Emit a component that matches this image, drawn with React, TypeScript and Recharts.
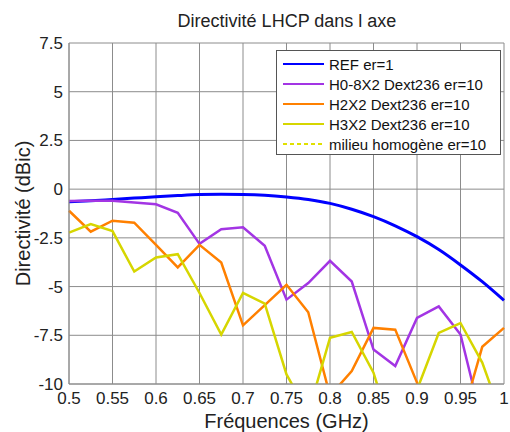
import React from 'react';
import { CartesianGrid, Line, LineChart, XAxis, YAxis } from 'recharts';

const frequencies = [
  0.5, 0.525, 0.55, 0.575, 0.6, 0.625, 0.65, 0.675, 0.7, 0.725, 0.75,
  0.775, 0.8, 0.825, 0.85, 0.875, 0.9, 0.925, 0.95, 0.975, 1.0,
];

const refEr1 = [
  -0.65, -0.6, -0.53, -0.46, -0.39, -0.33, -0.28, -0.26, -0.27, -0.31, -0.4,
  -0.53, -0.73, -1.03, -1.41, -1.88, -2.44, -3.1, -3.89, -4.75, -5.71,
];
const h08x2 = [
  -0.61, -0.6, -0.6, -0.68, -0.78, -1.21, -2.81, -2.06, -1.96, -2.91, -5.67,
  -4.82, -3.68, -4.74, -8.23, -9.08, -6.61, -6.02, -7.46, -12, -12.5,
];
const h2x2 = [
  -1.11, -2.18, -1.62, -1.72, -2.86, -4.02, -2.86, -3.77, -6.99, -5.95, -4.91,
  -6.32, -10.6, -9.34, -7.12, -7.21, -9.93, -12.5, -12, -8.09, -7.12,
];
const h3x2 = [
  -2.23, -1.79, -2.15, -4.23, -3.51, -3.34, -5.33, -7.46, -5.33, -5.88, -9.51,
  -11.5, -7.63, -7.33, -9.42, -13, -10.3, -7.38, -6.87, -8.9, -12,
];

const xTicks = [0.5, 0.55, 0.6, 0.65, 0.7, 0.75, 0.8, 0.85, 0.9, 0.95, 1];
const yTicks = [-10, -7.5, -5, -2.5, 0, 2.5, 5, 7.5];

const series = [
  { key: 'ref', name: 'REF er=1', color: '#0000ff', width: 3 },
  { key: 'h08', name: 'H0-8X2 Dext236 er=10', color: '#a335e4', width: 2.5 },
  { key: 'h2', name: 'H2X2 Dext236 er=10', color: '#ff8000', width: 2.5 },
  { key: 'h3', name: 'H3X2 Dext236 er=10', color: '#d6d600', width: 2.5 },
];
const legendOnly = { name: 'milieu homogène er=10', color: '#e0e000' };

const data = frequencies.map((f, i) => ({
  f,
  ref: refEr1[i],
  h08: h08x2[i],
  h2: h2x2[i],
  h3: h3x2[i],
}));

const font = '"Liberation Sans", Arial, sans-serif';

function LegendBox() {
  const rows = [
    ...series.map((s) => ({ name: s.name, color: s.color, dashed: false })),
    { name: legendOnly.name, color: legendOnly.color, dashed: true },
  ];
  return (
    <div
      style={{
        position: 'absolute',
        left: 276,
        top: 50,
        width: 225,
        height: 105,
        background: '#fff',
        border: '1px solid #555',
        fontFamily: font,
        fontSize: 15,
        color: '#111',
        paddingTop: 3,
        boxSizing: 'border-box',
      }}
    >
      {rows.map((r) => (
        <div key={r.name} style={{ display: 'flex', alignItems: 'center', height: 20 }}>
          <svg width={52} height={10} style={{ flex: 'none' }}>
            <line
              x1={6}
              x2={47}
              y1={5}
              y2={5}
              stroke={r.color}
              strokeWidth={2}
              strokeDasharray={r.dashed ? '4 3' : undefined}
            />
          </svg>
          <span style={{ whiteSpace: 'nowrap' }}>{r.name}</span>
        </div>
      ))}
    </div>
  );
}

export default function App() {
  return (
    <div style={{ position: 'relative', width: 510, height: 432, background: '#fff' }}>
      <style>{`body{margin:0}`}</style>
      <div
        style={{
          position: 'absolute',
          top: 11,
          left: 69,
          width: 436,
          textAlign: 'center',
          fontFamily: font,
          fontSize: 18,
          color: '#222',
        }}
      >
        Directivité LHCP dans l axe
      </div>
      <LineChart
        width={510}
        height={432}
        data={data}
        margin={{ top: 43, right: 6, left: 0, bottom: 0 }}
      >
        <CartesianGrid stroke="#8c8c8c" />
        <XAxis
          dataKey="f"
          type="number"
          domain={[0.5, 1]}
          ticks={xTicks}
          height={48}
          tickLine={false}
          axisLine={{ stroke: '#8c8c8c' }}
          tick={{ fill: '#222', fontSize: 17, fontFamily: font }}
          interval={0}
          label={{
            value: 'Fréquences (GHz)',
            position: 'insideBottom',
            offset: 4,
            style: { fill: '#222', fontSize: 20, fontFamily: font },
          }}
        />
        <YAxis
          type="number"
          domain={[-10, 7.5]}
          ticks={yTicks}
          allowDataOverflow
          width={69}
          tickLine={false}
          tickMargin={0}
          axisLine={{ stroke: '#8c8c8c' }}
          tick={{ fill: '#222', fontSize: 17, fontFamily: font }}
          interval={0}
          label={{
            value: 'Directivité (dBic)',
            angle: -90,
            position: 'insideLeft',
            offset: 23,
            style: { textAnchor: 'middle', fill: '#222', fontSize: 20, fontFamily: font },
          }}
        />
        {series.map((s) => (
          <Line
            key={s.key}
            dataKey={s.key}
            name={s.name}
            type={s.key === 'ref' ? 'monotone' : 'linear'}
            stroke={s.color}
            strokeWidth={s.width}
            dot={false}
            isAnimationActive={false}
          />
        ))}
      </LineChart>
      <LegendBox />
    </div>
  );
}
